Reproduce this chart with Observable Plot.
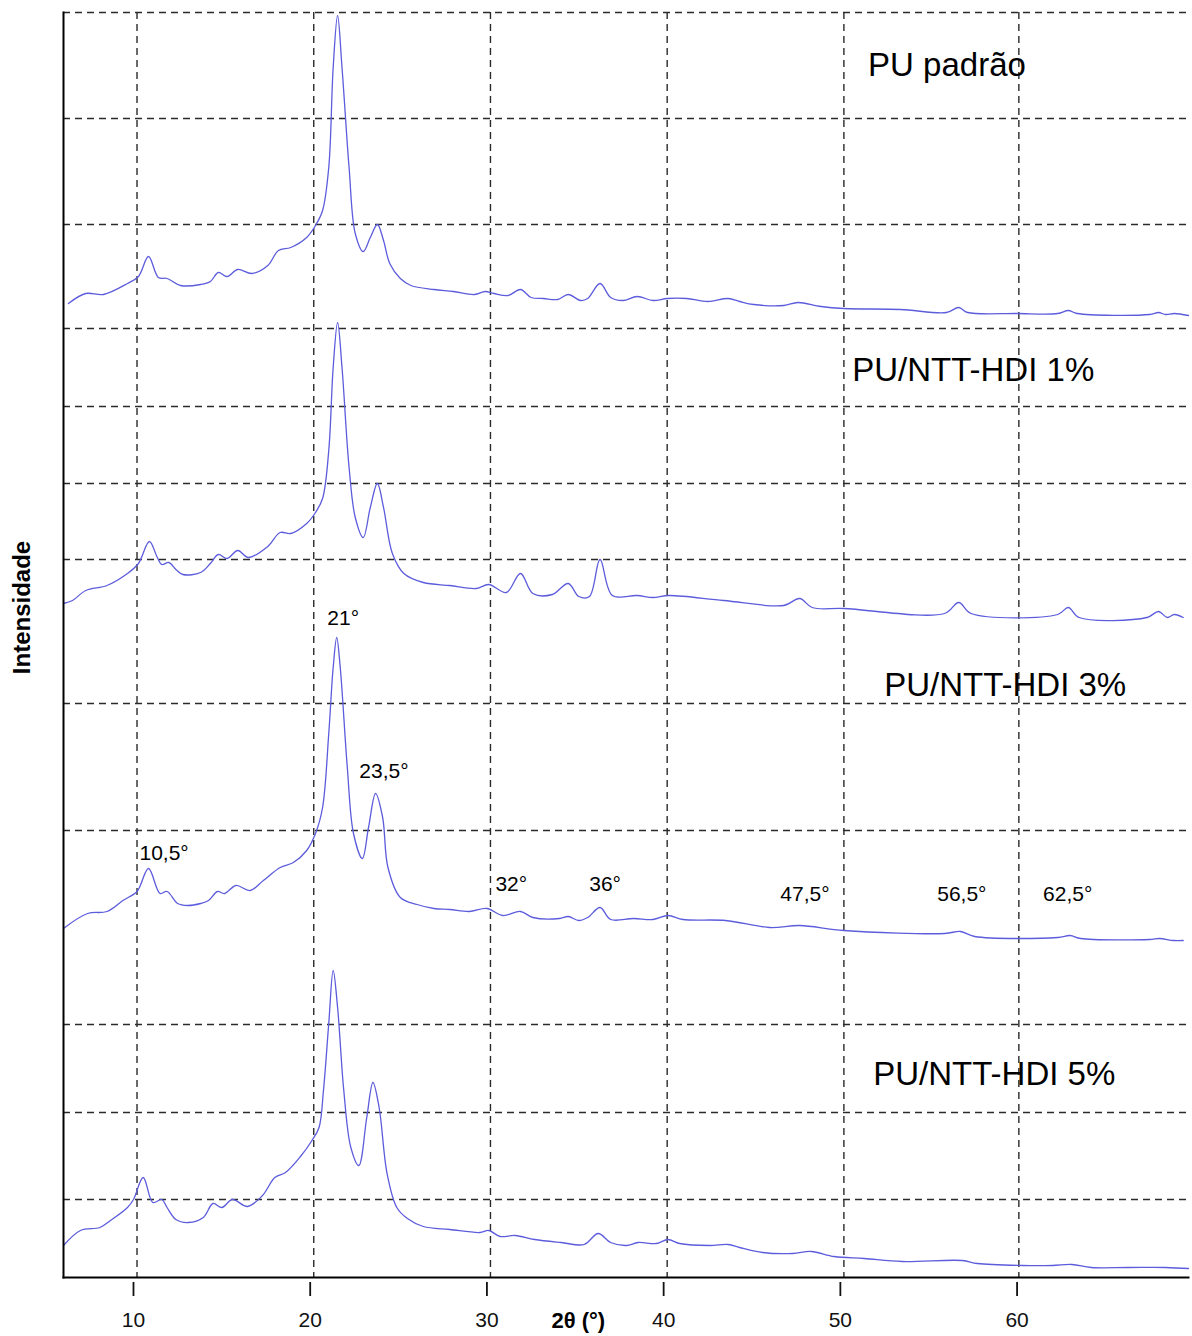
<!DOCTYPE html>
<html><head><meta charset="utf-8">
<script src="https://cdn.jsdelivr.net/npm/d3@7"></script>
<script src="https://cdn.jsdelivr.net/npm/@observablehq/plot@0.6"></script>
<style>
body{margin:0;background:#fff;}
#chart svg{display:block;}
</style></head><body><div id="chart"></div>
<script>
// ---- data: [2θ (°), stacked intensity (a.u.)] ----
const seriesNames = ["PU padrão", "PU/NTT-HDI 1%", "PU/NTT-HDI 3%", "PU/NTT-HDI 5%"];

const puPadrao = [[6.32,974],[7.29,984],[8.3,983],[9.66,994],[10.28,1001],[10.85,1021],[11.41,1000],[11.9,999],[12.66,992],[13.8,993],[14.35,996],[14.8,1005],[15.3,1001],[15.9,1008],[16.7,1004],[17.6,1012],[18.2,1027],[18.9,1030],[19.8,1040],[20.3,1052],[20.7,1067],[21.05,1110],[21.3,1210],[21.55,1262],[21.8,1210],[22.2,1110],[22.55,1044],[23.0,1026],[23.4,1040],[23.8,1053],[24.15,1037],[24.5,1014],[25.1,999],[25.7,992],[27,988],[28.1,986],[29.3,983],[29.9,986],[30.4,984],[31.2,982],[31.9,988],[32.5,980],[33.2,979],[34,978],[34.6,983],[35.3,977],[35.7,979],[36.4,994],[37,980],[37.7,977],[38.5,981],[39.4,977],[40.2,979],[41.3,979],[42.5,976],[43.65,979],[44.3,976],[45.1,973],[46.8,972],[47.6,975],[48.9,971],[50.2,969],[53.4,968],[56,965],[56.7,970],[57.2,965],[60,964],[62.3,964],[62.9,967],[63.4,964],[67.5,963],[68,965],[68.4,963],[68.9,964],[69.7,962]];

const puHdi1 = [[6.04,674],[6.55,677],[7.3,687],[8.5,692],[9.66,704],[10.28,714],[10.9,736],[11.35,720],[11.6,713],[12,715],[12.4,708],[12.8,703],[13.8,705],[14.35,714],[14.8,723],[15.3,719],[15.9,727],[16.5,720],[17.6,731],[18.3,745],[18.9,744],[19.8,754],[20.3,765],[20.7,779],[21.05,827],[21.3,910],[21.55,955],[21.8,910],[22.2,810],[22.55,760],[23.0,740],[23.4,770],[23.8,794],[24.15,770],[24.65,724],[25.3,704],[26.4,695],[27.9,692],[29.4,689],[30.1,693],[31.1,685],[31.9,704],[32.6,684],[33.7,683],[34.6,694],[35.2,681],[35.8,681],[36.4,718],[37.1,682],[38.5,682],[39.4,680],[40.3,682],[43.4,677],[46.8,672],[47.7,679],[48.4,670],[50.2,669],[55.9,664],[56.7,675],[57.4,664],[62.3,663],[62.9,670],[63.5,660],[67.35,660],[68,666],[68.5,660],[68.9,663],[69.4,660]];

const puHdi3 = [[6.04,349],[7.4,364],[8.5,366],[9.4,377],[10.2,386],[10.85,409],[11.5,384],[11.9,386],[12.5,374],[13.05,372],[13.8,374],[14.25,377],[14.75,386],[15.15,384],[15.8,392],[16.6,387],[17.35,397],[18.3,410],[19.05,415],[19.8,427],[20.3,444],[20.7,470],[21.05,544],[21.3,610],[21.5,640],[21.7,610],[22.1,510],[22.45,444],[22.95,419],[23.3,450],[23.7,484],[24.1,460],[24.4,410],[25.1,380],[26.05,373],[27,369],[27.9,368],[29,366],[30,369],[30.9,362],[31.9,366],[32.6,360],[34.1,359],[34.6,361],[35.2,357],[35.7,360],[36.4,370],[37,358],[38.3,359],[39.4,358],[40.25,362],[41.1,358],[43.5,357],[46,350],[47.7,352],[50.2,347],[55.9,344],[56.8,346],[57.6,341],[62.3,340],[63,342],[63.6,339],[67.5,338],[68.05,339],[68.85,337],[69.4,337]];

const puHdi5 = [[6.04,32],[7,47],[8.1,50],[8.7,57],[9.66,70],[10,78],[10.55,100],[11.1,75],[11.6,78],[11.9,70],[12.4,58],[13.1,55],[13.95,60],[14.5,74],[15,70],[15.6,78],[16.45,71],[17.3,82],[18,100],[18.6,105],[19.45,121],[20.1,137],[20.5,150],[20.75,187],[21.05,254],[21.3,307],[21.55,270],[21.9,187],[22.3,130],[22.75,112],[23.2,160],[23.55,195],[23.9,170],[24.35,104],[24.9,70],[25.5,59],[26.4,51],[27.9,48],[29.6,45],[30.1,47],[30.75,41],[31.6,42],[32.7,38],[34.2,35],[35.5,33],[36.3,44],[37,35],[37.9,32],[38.55,35],[39.6,34],[40.25,38],[40.9,34],[42.6,32],[43.65,33],[44.3,30],[45.6,25],[47.3,24],[48.35,26],[49.65,21],[51.35,19],[53.5,16],[56.9,17],[57.75,14],[60.3,12],[62,12],[63.1,13],[64.2,10],[66.3,10],[68.4,10],[69.7,9]];

const peakLabels = ["10,5°", "21°", "23,5°", "32°", "36°", "47,5°", "56,5°", "62,5°"];
const xTicks = [10, 20, 30, 40, 50, 60];
const gridAngles = [10.2, 20.2, 30.2, 40.2, 50.2, 60.1];
const gridIntensities = [1265, 1159, 1053, 949, 871, 794, 718, 574, 447, 253, 165, 78];

// ---- build table ----
const rows = [];
[puPadrao, puHdi1, puHdi3, puHdi5].forEach((arr, i) =>
  arr.forEach(([a, v]) => rows.push({series: seriesNames[i], angle: a, intensity: v})));

// ---- label placements (angle, intensity) ----
const seriesLabelAt = [[51.57, 1202], [50.67, 897], [52.48, 582], [51.86, 193]];
const peakLabelAt = [[10.34, 418], [20.97, 653], [22.78, 500], [30.48, 387], [35.79, 387], [46.6, 377], [55.48, 377], [61.47, 377]];

const gridStyle = {stroke: "#2a2a2a", strokeWidth: 1.4, strokeDasharray: "7,5"};

const chart = Plot.plot({
  width: 1192, height: 1336,
  marginLeft: 63, marginRight: 4, marginTop: 12, marginBottom: 59,
  style: {fontFamily: "'Liberation Sans', Arial, sans-serif", background: "#fff", color: "#111"},
  x: {domain: [6.04, 69.7]},
  y: {domain: [0, 1265], axis: null},
  marks: [
    Plot.ruleY(gridIntensities, gridStyle),
    Plot.ruleX(gridAngles, gridStyle),
    Plot.line(rows, {x: "angle", y: "intensity", z: "series", stroke: "#5c5cdc", strokeWidth: 1.3, curve: "catmull-rom"}),
    Plot.axisX(xTicks, {tickSize: 14, tickPadding: 16, dy: 5, fontSize: 21, label: null, strokeWidth: 1.8, color: "#111"}),
    Plot.frame({anchor: "left", stroke: "#000", strokeWidth: 2}),
    Plot.frame({anchor: "bottom", stroke: "#000", strokeWidth: 2}),
    Plot.text(seriesNames, {x: (d, i) => seriesLabelAt[i][0], y: (d, i) => seriesLabelAt[i][1], text: d => d,
      textAnchor: "start", lineAnchor: "bottom", fontSize: 33, fill: "#000"}),
    Plot.text(peakLabels, {x: (d, i) => peakLabelAt[i][0], y: (d, i) => peakLabelAt[i][1], text: d => d,
      textAnchor: "start", lineAnchor: "bottom", fontSize: 21, fill: "#000"}),
    Plot.text(["2θ (°)"], {x: () => 35.17, frameAnchor: "bottom", dy: 43, text: d => d,
      textAnchor: "middle", lineAnchor: "middle", fontSize: 22, fontWeight: "bold", fill: "#000"}),
    Plot.text(["Intensidade"], {y: () => 670, frameAnchor: "left", dx: -41, rotate: -90, text: d => d,
      textAnchor: "middle", lineAnchor: "middle", fontSize: 24, fontWeight: "bold", fill: "#000"})
  ]
});
document.getElementById("chart").appendChild(chart);
</script>
</body></html>
